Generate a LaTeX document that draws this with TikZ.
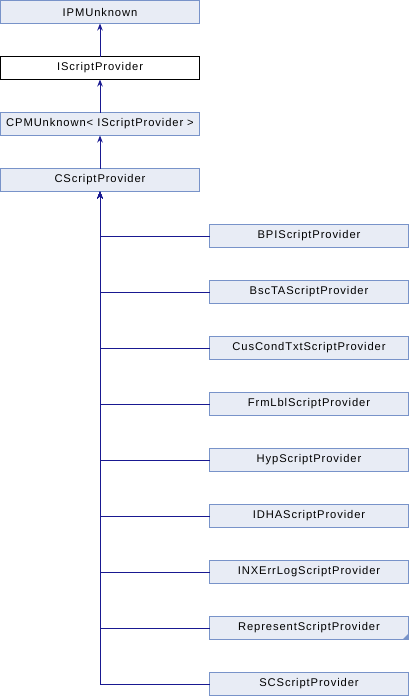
\documentclass[tikz,border=0pt]{standalone}
\usepackage{fontspec}
\newfontfamily\dxfont{Liberation Sans}[LetterSpace=8]
\usetikzlibrary{arrows.meta,positioning}
\definecolor{boxfill}{RGB}{232,236,245}
\definecolor{boxdraw}{RGB}{120,147,201}
\definecolor{linkblue}{RGB}{25,25,145}

\begin{document}
\begin{tikzpicture}[
    x=1pt, y=1pt,
    node distance=33pt and 10pt,
    every node/.style={font=\dxfont\fontsize{11.2}{13}\selectfont},
    cls/.style={rectangle, draw=boxdraw, fill=boxfill, line width=0.9pt,
                minimum width=199pt, minimum height=23pt, inner sep=0pt, outer sep=0pt},
    main/.style={cls, draw=black, fill=white},
    inh/.style={-{Stealth[length=7pt,width=5.5pt]}, color=linkblue, line width=1pt}
]
\useasboundingbox (0,0) rectangle (410,-696);

% Upper chain
\node[cls, anchor=north west] (ipm) at (0.5,-0.5) {IPMUnknown};
\node[main, below=of ipm]  (iscr) {IScriptProvider};
\node[cls, below=of iscr]  (cpm)  {CPMUnknown< IScriptProvider >};
\node[cls, below=of cpm]   (cscr) {CScriptProvider};

% Derived classes
\node[cls, below right=of cscr] (bpi)  {BPIScriptProvider};
\node[cls, below=of bpi]  (bsc)  {BscTAScriptProvider};
\node[cls, below=of bsc]  (cus)  {CusCondTxtScriptProvider};
\node[cls, below=of cus]  (frm)  {FrmLblScriptProvider};
\node[cls, below=of frm]  (hyp)  {HypScriptProvider};
\node[cls, below=of hyp]  (idha) {IDHAScriptProvider};
\node[cls, below=of idha] (inx)  {INXErrLogScriptProvider};
\node[cls, below=of inx]  (rep)  {RepresentScriptProvider};
\node[cls, below=of rep]  (scs)  {SCScriptProvider};

% corner mark
\fill[boxdraw] (rep.south east) -- ++(-6,0) -- ++(6,6) -- cycle;

% Arrows
\draw[inh] (iscr) -- (ipm);
\draw[inh] (cpm)  -- (iscr);
\draw[inh] (cscr) -- (cpm);
\foreach \n in {bpi,bsc,cus,frm,hyp,idha,inx,rep,scs}
  \draw[inh] (\n.west) -| (cscr.south);

\end{tikzpicture}
\end{document}
